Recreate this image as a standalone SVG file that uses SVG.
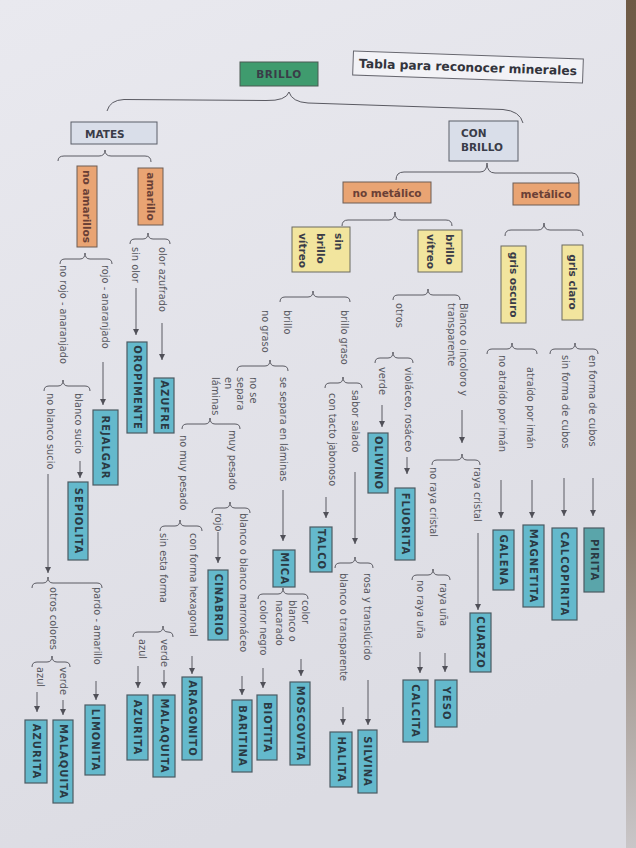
<svg xmlns="http://www.w3.org/2000/svg" width="636" height="848" viewBox="0 0 636 848">
<defs>
<linearGradient id="paper" x1="0" y1="0" x2="0.3" y2="1">
<stop offset="0" stop-color="#e9e9ef"/>
<stop offset="1" stop-color="#dcdce3"/>
</linearGradient>
<linearGradient id="edge" x1="0" y1="0" x2="0" y2="1">
<stop offset="0" stop-color="#6e5a45"/>
<stop offset="0.6" stop-color="#8a7a6a"/>
<stop offset="1" stop-color="#c9c6c8"/>
</linearGradient>
<marker id="ah" markerUnits="userSpaceOnUse" markerWidth="7" markerHeight="7" refX="6" refY="3" orient="auto">
<path d="M0,0 L6,3 L0,6 z" fill="#505058"/>
</marker>
<style>
.lbl{font-family:"DejaVu Sans","Noto Sans",sans-serif;font-size:9.8px;fill:#58585f}
.bt{font-family:"DejaVu Sans","Noto Sans",sans-serif;font-size:10px;font-weight:bold;letter-spacing:1px;fill:#2a3a44}
.ht{font-family:"DejaVu Sans","Noto Sans",sans-serif;font-size:10.5px;font-weight:bold;fill:#3a3c48}
.c rect{fill:#64b9cc;stroke:#4b5a62;stroke-width:1.2}
.o rect{fill:#e9a473;stroke:#6d5d55;stroke-width:1}
.o text{fill:#6a4036}
.y rect{fill:#f2e59e;stroke:#6b6a60;stroke-width:1}
.g rect{fill:#d9dee9;stroke:#5a5e68;stroke-width:1}
.br{fill:none;stroke:#5a5a62;stroke-width:1}
.ar{fill:none;stroke:#5a5a62;stroke-width:1;marker-end:url(#ah)}
</style>
</defs>
<rect width="636" height="848" fill="url(#paper)"/>
<rect x="626" y="0" width="10" height="848" fill="url(#edge)"/>

<!-- horizontal part -->
<g id="title" transform="rotate(2,468,67)">
<rect x="353" y="55" width="230" height="24" fill="#f2f2f6" stroke="#66666e" stroke-width="1"/>
<text x="468" y="71.5" text-anchor="middle" class="ht" style="font-size:12.3px;fill:#33343c">Tabla para reconocer minerales</text>
</g>
<g id="brillo">
<rect x="240" y="62" width="78" height="24" fill="#3f9b6e" stroke="#4a5a52"/>
<text x="279" y="78" text-anchor="middle" class="ht" style="letter-spacing:0.6px">BRILLO</text>
</g>
<g id="mates" class="g">
<rect x="71" y="122" width="86" height="22"/>
<text x="85" y="137.5" class="ht">MATES</text>
</g>
<g id="conbrillo" class="g">
<rect x="449" y="121" width="69" height="40"/>
<text x="461" y="137" class="ht">CON</text>
<text x="461" y="151" class="ht">BRILLO</text>
</g>
<g id="nometalico" class="o">
<rect x="343" y="182" width="88" height="21"/>
<text x="387" y="196.5" text-anchor="middle" class="ht">no metálico</text>
</g>
<g id="metalico" class="o">
<rect x="513" y="183" width="66" height="22"/>
<text x="546" y="197.5" text-anchor="middle" class="ht">metálico</text>
</g>

<!-- vertical category boxes -->
<g id="noamarillos" class="o">
<rect x="77" y="166" width="20" height="81"/>
<text class="ht" text-anchor="middle" dominant-baseline="central" transform="translate(87,206.5) rotate(90)">no amarillos</text>
</g>
<g id="amarillo" class="o">
<rect x="138" y="168" width="25" height="57"/>
<text class="ht" text-anchor="middle" dominant-baseline="central" transform="translate(150.5,196.5) rotate(90)">amarillo</text>
</g>
<g id="sinbrillovitreo" class="y">
<rect x="292" y="227" width="58" height="45"/>
<text class="ht" dominant-baseline="central" transform="translate(339,233) rotate(90)">sin</text>
<text class="ht" dominant-baseline="central" transform="translate(321,233) rotate(90)">brillo</text>
<text class="ht" dominant-baseline="central" transform="translate(303,233) rotate(90)">vítreo</text>
</g>
<g id="brillovitreo" class="y">
<rect x="418" y="230" width="44" height="42"/>
<text class="ht" dominant-baseline="central" transform="translate(450,234) rotate(90)">brillo</text>
<text class="ht" dominant-baseline="central" transform="translate(431,234) rotate(90)">vítreo</text>
</g>
<g id="grisoscuro" class="y">
<rect x="501" y="246" width="25" height="77"/>
<text class="ht" text-anchor="middle" dominant-baseline="central" transform="translate(513.5,284.5) rotate(90)">gris oscuro</text>
</g>
<g id="grisclaro" class="y">
<rect x="562" y="245" width="21" height="75"/>
<text class="ht" text-anchor="middle" dominant-baseline="central" transform="translate(572.5,282) rotate(90)">gris claro</text>
</g>

<!-- mineral boxes -->
<g id="oropimente" class="c"><rect x="127" y="342" width="20" height="91"/><text class="bt" text-anchor="middle" dominant-baseline="central" transform="translate(137,387.5) rotate(90)">OROPIMENTE</text></g>
<g id="azufre" class="c"><rect x="154" y="378" width="20" height="55"/><text class="bt" text-anchor="middle" dominant-baseline="central" transform="translate(164,405.5) rotate(90)">AZUFRE</text></g>
<g id="rejalgar" class="c"><rect x="93" y="410" width="25" height="75"/><text class="bt" text-anchor="middle" dominant-baseline="central" transform="translate(105.5,447.5) rotate(90)">REJALGAR</text></g>
<g id="sepiolita" class="c"><rect x="68" y="482" width="20" height="78"/><text class="bt" text-anchor="middle" dominant-baseline="central" transform="translate(78,521) rotate(90)">SEPIOLITA</text></g>
<g id="limonita" class="c"><rect x="85" y="705" width="20" height="70"/><text class="bt" text-anchor="middle" dominant-baseline="central" transform="translate(95,740) rotate(90)">LIMONITA</text></g>
<g id="malaquita1" class="c"><rect x="53" y="720" width="20" height="83"/><text class="bt" text-anchor="middle" dominant-baseline="central" transform="translate(63,761.5) rotate(90)">MALAQUITA</text></g>
<g id="azurita1" class="c"><rect x="25" y="720" width="22" height="63"/><text class="bt" text-anchor="middle" dominant-baseline="central" transform="translate(36,751.5) rotate(90)">AZURITA</text></g>
<g id="aragonito" class="c"><rect x="182" y="677" width="20" height="83"/><text class="bt" text-anchor="middle" dominant-baseline="central" transform="translate(192,718.5) rotate(90)">ARAGONITO</text></g>
<g id="malaquita2" class="c"><rect x="153" y="695" width="22" height="82"/><text class="bt" text-anchor="middle" dominant-baseline="central" transform="translate(164,736) rotate(90)">MALAQUITA</text></g>
<g id="azurita2" class="c"><rect x="127" y="695" width="21" height="65"/><text class="bt" text-anchor="middle" dominant-baseline="central" transform="translate(137.5,727.5) rotate(90)">AZURITA</text></g>
<g id="cinabrio" class="c"><rect x="208" y="570" width="20" height="70"/><text class="bt" text-anchor="middle" dominant-baseline="central" transform="translate(218,605) rotate(90)">CINABRIO</text></g>
<g id="baritina" class="c"><rect x="232" y="700" width="20" height="72"/><text class="bt" text-anchor="middle" dominant-baseline="central" transform="translate(242,736) rotate(90)">BARITINA</text></g>
<g id="mica" class="c"><rect x="273" y="550" width="22" height="37"/><text class="bt" text-anchor="middle" dominant-baseline="central" transform="translate(284,568.5) rotate(90)">MICA</text></g>
<g id="moscovita" class="c"><rect x="290" y="682" width="20" height="83"/><text class="bt" text-anchor="middle" dominant-baseline="central" transform="translate(300,723.5) rotate(90)">MOSCOVITA</text></g>
<g id="biotita" class="c"><rect x="257" y="695" width="20" height="65"/><text class="bt" text-anchor="middle" dominant-baseline="central" transform="translate(267,727.5) rotate(90)">BIOTITA</text></g>
<g id="talco" class="c"><rect x="310" y="527" width="22" height="45"/><text class="bt" text-anchor="middle" dominant-baseline="central" transform="translate(321,549.5) rotate(90)">TALCO</text></g>
<g id="silvina" class="c"><rect x="358" y="730" width="19" height="63"/><text class="bt" text-anchor="middle" dominant-baseline="central" transform="translate(367.5,761.5) rotate(90)">SILVINA</text></g>
<g id="halita" class="c"><rect x="330" y="732" width="22" height="55"/><text class="bt" text-anchor="middle" dominant-baseline="central" transform="translate(341,759.5) rotate(90)">HALITA</text></g>
<g id="olivino" class="c"><rect x="368" y="433" width="20" height="60"/><text class="bt" text-anchor="middle" dominant-baseline="central" transform="translate(378,463) rotate(90)">OLIVINO</text></g>
<g id="fluorita" class="c"><rect x="395" y="488" width="20" height="72"/><text class="bt" text-anchor="middle" dominant-baseline="central" transform="translate(405,524) rotate(90)">FLUORITA</text></g>
<g id="calcita" class="c"><rect x="403" y="680" width="25" height="62"/><text class="bt" text-anchor="middle" dominant-baseline="central" transform="translate(415.5,711) rotate(90)">CALCITA</text></g>
<g id="yeso" class="c"><rect x="435" y="680" width="22" height="47"/><text class="bt" text-anchor="middle" dominant-baseline="central" transform="translate(446,703.5) rotate(90)">YESO</text></g>
<g id="cuarzo" class="c"><rect x="470" y="613" width="21" height="59"/><text class="bt" text-anchor="middle" dominant-baseline="central" transform="translate(480.5,642.5) rotate(90)">CUARZO</text></g>
<g id="galena" class="c"><rect x="493" y="530" width="21" height="60"/><text class="bt" text-anchor="middle" dominant-baseline="central" transform="translate(503.5,560) rotate(90)">GALENA</text></g>
<g id="magnetita" class="c"><rect x="523" y="525" width="21" height="82"/><text class="bt" text-anchor="middle" dominant-baseline="central" transform="translate(533.5,566) rotate(90)">MAGNETITA</text></g>
<g id="calcopirita" class="c"><rect x="552" y="528" width="25" height="92"/><text class="bt" text-anchor="middle" dominant-baseline="central" transform="translate(564.5,574) rotate(90)">CALCOPIRITA</text></g>
<g id="pirita" class="c"><rect x="584" y="528" width="20" height="64" style="fill:#5aa5aa"/><text class="bt" text-anchor="middle" dominant-baseline="central" transform="translate(594,560) rotate(90)">PIRITA</text></g>

<!-- labels -->
<g id="labels" class="lbl" dominant-baseline="central">
<text transform="translate(135,247) rotate(90)">sin olor</text>
<text transform="translate(162,247) rotate(90)">olor azufrado</text>
<text transform="translate(105,265) rotate(90)">rojo - anaranjado</text>
<text transform="translate(63,265) rotate(90)">no rojo - anaranjado</text>
<text transform="translate(78,393) rotate(90)">blanco sucio</text>
<text transform="translate(50,393) rotate(90)">no blanco sucio</text>
<text transform="translate(97,587) rotate(90)">pardo - amarillo</text>
<text transform="translate(53,587) rotate(90)">otros colores</text>
<text transform="translate(63,667) rotate(90)">verde</text>
<text transform="translate(40,667) rotate(90)">azul</text>
<text transform="translate(232,430) rotate(90)">muy pesado</text>
<text transform="translate(183,435) rotate(90)">no muy pesado</text>
<text transform="translate(243,513) rotate(90)">blanco o blanco marronáceo</text>
<text transform="translate(218,513) rotate(90)">rojo</text>
<text transform="translate(193,533) rotate(90)">con forma hexagonal</text>
<text transform="translate(163,533) rotate(90)">sin esta forma</text>
<text transform="translate(164,639) rotate(90)">verde</text>
<text transform="translate(142,639) rotate(90)">azul</text>
<text transform="translate(305,600) rotate(90)">color</text>
<text transform="translate(292,600) rotate(90)">blanco o</text>
<text transform="translate(279,600) rotate(90)">nacarado</text>
<text transform="translate(263,600) rotate(90)">color negro</text>
<text transform="translate(367,573) rotate(90)">rosa  y translúcido</text>
<text transform="translate(343,573) rotate(90)">blanco o transparente</text>
<text transform="translate(420,580) rotate(90)">no raya uña</text>
<text transform="translate(443,583) rotate(90)">raya uña</text>
<text transform="translate(477,467) rotate(90)">raya cristal</text>
<text transform="translate(433,467) rotate(90)">no raya cristal</text>
<text transform="translate(463,303) rotate(90)">Blanco o incoloro y</text>
<text transform="translate(451,303) rotate(90)">transparente</text>
<text transform="translate(399,303) rotate(90)">otros</text>
<text transform="translate(408,367) rotate(90)">violáceo, rosáceo</text>
<text transform="translate(382,367) rotate(90)">verde</text>
<text transform="translate(344,310) rotate(90)">brillo graso</text>
<text transform="translate(287,310) rotate(90)">brillo</text>
<text transform="translate(265,310) rotate(90)">no graso</text>
<text transform="translate(355,390) rotate(90)">sabor salado</text>
<text transform="translate(332,393) rotate(90)">con tacto jabonoso</text>
<text transform="translate(283,377) rotate(90)">se separa en láminas</text>
<text transform="translate(253,377) rotate(90)">no se</text>
<text transform="translate(240,377) rotate(90)">separa</text>
<text transform="translate(228,377) rotate(90)">en</text>
<text transform="translate(215,377) rotate(90)">láminas</text>
<text transform="translate(592,355) rotate(90)">en forma de cubos</text>
<text transform="translate(565,355) rotate(90)">sin forma de cubos</text>
<text transform="translate(530,367) rotate(90)">atraído por imán</text>
<text transform="translate(502,355) rotate(90)">no atraído por imán</text>
</g>

<!-- connectors: braces and arrows -->
<g id="connectors">
<path class="br" d="M107,111 Q110,100 124,99.5 L266,100.5 Q286,101 289,92 Q292,102 308,103 L503,109.5 Q520,111 523,123"/>
<path class="br" d="M58,161 Q58,156 64,156 H99 Q105,156 105,150 Q105,156 111,156 H145 Q151,156 151,162"/>
<path class="br" d="M396,180 Q396,172 404,172 H480 Q487,172 487,163 Q487,173 495,173 H572 Q579,173 579,183"/>
<path class="br" d="M342,226 Q342,220 348,220 H389 Q395,220 395,212 Q395,220 401,220 H446 Q452,220 452,226"/>
<path class="br" d="M505,236 Q505,230 511,230 H538 Q544,230 544,223 Q544,230 550,230 H577 Q583,230 583,236"/>
<path class="br" d="M130,244 Q130,239 135,239 H143 Q148,239 148,233 Q148,239 153,239 H165 Q170,239 170,244"/>
<path class="br" d="M60,264 Q60,259 65,259 H80 Q85,259 85,253 Q85,259 90,259 H107 Q112,259 112,264"/>
<path class="br" d="M280,302 Q280,297 285,297 H308 Q313,297 313,291 Q313,297 318,297 H345 Q350,297 350,302"/>
<path class="br" d="M393,300 Q393,295 398,295 H423 Q428,295 428,289 Q428,295 433,295 H455 Q460,295 460,300"/>
<path class="br" d="M487,354 Q487,349 492,349 H507 Q512,349 512,343 Q512,349 517,349 H532 Q537,349 537,354"/>
<path class="br" d="M550,354 Q550,349 555,349 H570 Q575,349 575,343 Q575,349 580,349 H593 Q598,349 598,354"/>
<path class="br" d="M375,363 Q375,358 380,358 H388 Q393,358 393,352 Q393,358 398,358 H408 Q413,358 413,363"/>
<path class="br" d="M325,388 Q325,383 330,383 H338 Q343,383 343,377 Q343,383 348,383 H357 Q362,383 362,388"/>
<path class="br" d="M237,371 Q237,366 242,366 H265 Q270,366 270,360 Q270,366 275,366 H283 Q288,366 288,371"/>
<path class="br" d="M44,391 Q44,386 49,386 H58 Q63,386 63,380 Q63,386 68,386 H85 Q90,386 90,391"/>
<path class="br" d="M182,429 Q182,424 187,424 H205 Q210,424 210,418 Q210,424 215,424 H235 Q240,424 240,429"/>
<path class="br" d="M432,465 Q432,460 437,460 H457 Q462,460 462,454 Q462,460 467,460 H475 Q480,460 480,465"/>
<path class="br" d="M212,513 Q212,508 217,508 H225 Q230,508 230,502 Q230,508 235,508 H245 Q250,508 250,513"/>
<path class="br" d="M160,531 Q160,526 165,526 H175 Q180,526 180,520 Q180,526 185,526 H197 Q202,526 202,531"/>
<path class="br" d="M335,568 Q335,563 340,563 H350 Q355,563 355,557 Q355,563 360,563 H368 Q373,563 373,568"/>
<path class="br" d="M412,580 Q412,575 417,575 H428 Q433,575 433,569 Q433,575 438,575 H445 Q450,575 450,580"/>
<path class="br" d="M32,588 Q32,583 37,583 H43 Q48,583 48,577 Q48,583 53,583 H97 Q102,583 102,588"/>
<path class="br" d="M258,599 Q258,594 263,594 H278 Q283,594 283,588 Q283,594 288,594 H303 Q308,594 308,599"/>
<path class="br" d="M133,637 Q133,632 138,632 H158 Q163,632 163,626 Q163,632 168,632 H168 Q173,632 173,637"/>
<path class="br" d="M32,667 Q32,662 37,662 H47 Q52,662 52,656 Q52,662 57,662 H65 Q70,662 70,667"/>

<path class="ar" d="M162,323 V360"/>
<path class="ar" d="M136,288 V335"/>
<path class="ar" d="M103,362 V405"/>
<path class="ar" d="M80,461 V478"/>
<path class="ar" d="M48,474 V573"/>
<path class="ar" d="M96,681 V700"/>
<path class="ar" d="M63,700 V715"/>
<path class="ar" d="M37,692 V712"/>
<path class="ar" d="M218,532 V563"/>
<path class="ar" d="M242,676 V695"/>
<path class="ar" d="M192,656 V674"/>
<path class="ar" d="M164,670 V688"/>
<path class="ar" d="M138,666 V688"/>
<path class="ar" d="M283,490 V541"/>
<path class="ar" d="M301,659 V676"/>
<path class="ar" d="M263,668 V688"/>
<path class="ar" d="M326,497 V518"/>
<path class="ar" d="M355,472 V544"/>
<path class="ar" d="M368,680 V725"/>
<path class="ar" d="M343,707 V725"/>
<path class="ar" d="M407,457 V474"/>
<path class="ar" d="M382,405 V427"/>
<path class="ar" d="M462,410 V443"/>
<path class="ar" d="M478,533 V610"/>
<path class="ar" d="M420,652 V673"/>
<path class="ar" d="M445,653 V672"/>
<path class="ar" d="M501,480 V518"/>
<path class="ar" d="M532,480 V518"/>
<path class="ar" d="M564,478 V516"/>
<path class="ar" d="M593,478 V516"/>
</g>
</svg>
